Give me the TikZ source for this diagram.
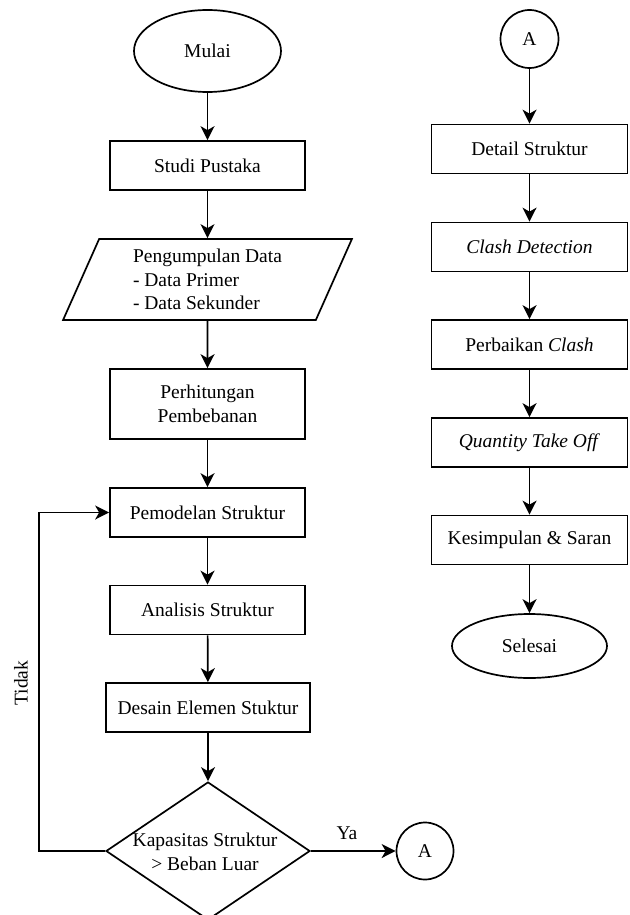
\documentclass[tikz,border=0pt]{standalone}
\usepackage{fontspec}
\setmainfont{Liberation Serif}
\usetikzlibrary{shapes.geometric,arrows.meta}
\begin{document}
\begin{tikzpicture}[x=1pt,y=-1pt,
 font=\fontsize{19.5}{23.5}\selectfont,
 line width=1.7pt,
 box/.style={draw, rectangle, minimum width=195pt, minimum height=49pt, inner sep=0pt, align=center},
 term/.style={draw, ellipse, inner sep=0pt},
 conn/.style={draw, circle, minimum size=57pt, inner sep=0pt},
 arr/.style={-{Stealth[length=14pt,width=14pt,inset=4pt]}}
]
\useasboundingbox (0,0) rectangle (629,915);
% left column
\node[term, minimum width=147pt, minimum height=82pt] (mulai) at (207.5,51) {Mulai};
\node[box] (studi) at (207.5,165.5) {Studi Pustaka};
\node[draw, trapezium, trapezium left angle=67.8, trapezium right angle=112.2,
      trapezium stretches=true, minimum width=289pt, minimum height=81pt,
      inner sep=0pt, align=left] (data) at (207.5,279.5)
      {Pengumpulan Data\\- Data Primer\\- Data Sekunder};
\node[box, minimum height=70pt] (hitung) at (207.5,404) {Perhitungan\\Pembebanan};
\node[box] (model) at (207.5,512.5) {Pemodelan Struktur};
\node[box] (analisis) at (207.5,610) {Analisis Struktur};
\node[box, minimum width=204pt] (desain) at (208,707.5) {Desain Elemen Stuktur};
\node[draw, diamond, minimum width=204pt, minimum height=138pt, inner sep=0pt] (dec) at (208,851) {};
\node[align=center, inner sep=0pt] (dectext) at (205,852) {Kapasitas Struktur\\> Beban Luar};
\node[conn] (a2) at (425,851) {A};
\node (ya) at (347,833) {Ya};
\node[rotate=90] (tidak) at (21,683) {Tidak};
\coordinate (loop) at (39,851);
% right column
\node[conn, minimum size=58pt] (a1) at (529.5,39) {A};
\node[box, minimum width=196pt] (detail) at (529.5,149) {Detail Struktur};
\node[box, minimum width=196pt] (clash) at (529.5,247) {\textit{Clash Detection}};
\node[box, minimum width=196pt] (perbaikan) at (529.5,344.5) {Perbaikan \textit{Clash}};
\node[box, minimum width=196pt] (qto) at (529.5,442.5) {\textit{Quantity Take Off}};
\node[box, minimum width=196pt] (kes) at (529.5,540) {Kesimpulan \& Saran};
\node[term, minimum width=155pt, minimum height=64pt] (selesai) at (529.5,646) {Selesai};
% connectors
\draw[arr] (mulai) -- (studi);
\draw[arr] (studi) -- (data);
\draw[arr] (data) -- (hitung);
\draw[arr] (hitung) -- (model);
\draw[arr] (model) -- (analisis);
\draw[arr] (analisis) -- (desain);
\draw[arr] (desain) -- (dec);
\draw[arr] (dec.east) -- (a2);
\draw[arr] (dec.west) -- (loop) |- (model.west);
\draw[arr] (a1) -- (detail);
\draw[arr] (detail) -- (clash);
\draw[arr] (clash) -- (perbaikan);
\draw[arr] (perbaikan) -- (qto);
\draw[arr] (qto) -- (kes);
\draw[arr] (kes) -- (selesai);
\end{tikzpicture}
\end{document}
